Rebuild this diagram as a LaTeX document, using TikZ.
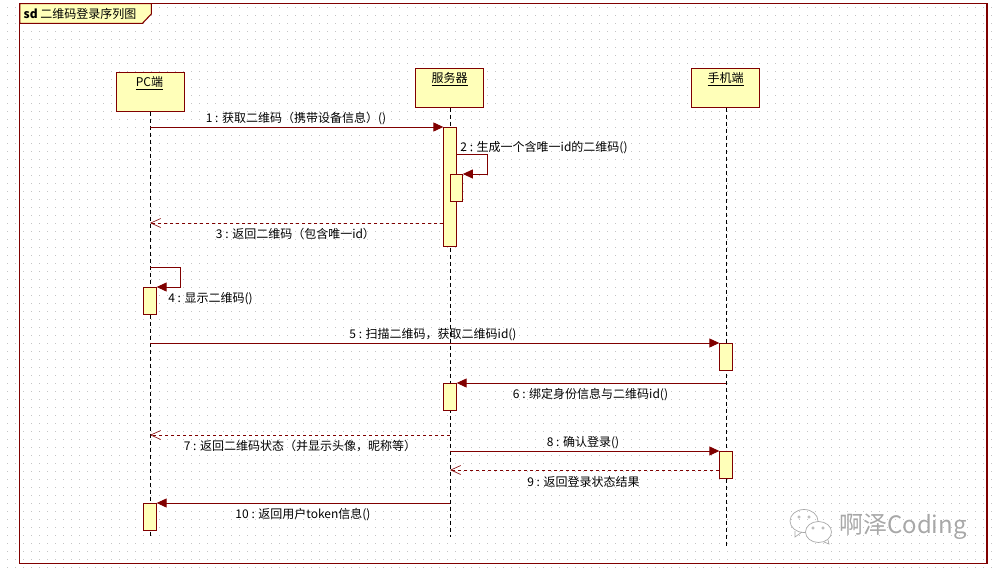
\documentclass[tikz,border=0pt]{standalone}
\usepackage{fontspec}
\setmainfont{Noto Sans CJK SC}
\usetikzlibrary{arrows.meta}
\definecolor{umlred}{HTML}{800000}
\definecolor{umlfill}{HTML}{FFFFB9}
\definecolor{griddot}{HTML}{C4C4C4}
\definecolor{markgray}{HTML}{A8A8A8}
\begin{document}
\begin{tikzpicture}[
   x=1pt,y=-1pt,
   head/.style={draw=umlred,fill=umlfill,line width=1pt,minimum width=68pt,minimum height=39pt,anchor=north west,inner sep=0pt},
   act/.style={draw=umlred,fill=umlfill,line width=1pt,minimum width=12.3pt,anchor=north,inner sep=0pt},
   life/.style={black,line width=1pt,dash pattern=on 4pt off 3pt},
   msg/.style={umlred,line width=1pt,-{Triangle[length=10pt,width=9pt]}},
   back/.style={umlred,line width=1pt,dash pattern=on 3.5pt off 2.5pt,-{Straight Barb[length=10pt,width=9pt,line width=.6pt]}},
   every node/.style={font=\fontsize{12}{14}\selectfont}
 ]
  \useasboundingbox (0,0) rectangle (999,573);
  % grid
  \foreach \x in {7,15,...,999} {
    \foreach \y in {7,15,...,573} {
      \fill[griddot] (\x,\y) rectangle +(1,1);
    }
  }
  % frame
  \draw[umlred,line width=1.1pt] (19.7,3.6) rectangle (987,563.5);
  \draw[umlred,fill=umlfill,line width=1.1pt] (19.7,3.6)--(151.3,3.6)--(151.3,14)--(142.5,23.3)--(19.7,23.3)--cycle;
  \node (title) at (80,14) {\textbf{sd} 二维码登录序列图};

  \node[head] (pc) at (115.5,71.5) {};
  \node[head] (srv) at (415.4,67.5) {};
  \node[head] (phone) at (691.4,67.5) {};
  \node (pclab) at (149.5,83) {\underline{PC端}};
  \node (srvlab) at (449.5,79) {\underline{服务器}};
  \node (phonelab) at (725.5,79) {\underline{手机端}};

  \coordinate (pcend) at (150,538);
  \coordinate (srvend) at (450,537);
  \coordinate (phoneend) at (726,548);
  \draw[life] (pcend |- pc.south) -- (pcend);
  \draw[life] (srvend |- srv.south) -- (srvend);
  \draw[life] (phoneend |- phone.south) -- (phoneend);

  \node[act,minimum height=119pt] (a1) at (450,127) {};
  \node[act,minimum height=27pt] (a2) at (456.2,174) {};
  \node[act,minimum height=27pt] (a4) at (150,287) {};
  \node[act,minimum height=27pt] (a5) at (726,343) {};
  \node[act,minimum height=27pt] (a6) at (450,383) {};
  \node[act,minimum height=27pt] (a8) at (726,451) {};
  \node[act,minimum height=27pt] (a10) at (150,503) {};

  \coordinate (m1) at (150,127);
  \coordinate (m2) at (a1.east |- 0,154);
  \coordinate (m3) at (a1.west |- 0,223);
  \coordinate (m4) at (150,267);
  \coordinate (m6) at (726,383);
  \coordinate (m7) at (450,435);
  \coordinate (m8) at (450,451);
  \coordinate (m9) at (a8.west |- 0,470);
  \coordinate (m10) at (450,503);

  \draw[msg] (m1)--(a1.north west);
  \draw[msg] (m2)-|(487,174)--(a2.north east);
  \draw[back] (m3)--(m3 -| pcend);
  \draw[msg] (m4)-|(180.5,287)--(a4.north east);
  \draw[msg] (m1 |- a5.north)--(a5.north west);
  \draw[msg] (m6)--(a6.north east);
  \draw[back] (m7)--(m7 -| pcend);
  \draw[msg] (m8)--(a8.north west);
  \draw[back] (m9)--(m9 -| srvend);
  \draw[msg] (m10)--(a10.north east);

  \foreach \i/\x/\y/\lab in {
    1/296/118.5/{1 : 获取二维码（携带设备信息）()},
    2/544/147.5/{2 : 生成一个含唯一id的二维码()},
    3/295.5/234/{3 : 返回二维码（包含唯一id）},
    4/210.5/298.5/{4 : 显示二维码()},
    5/433/334.5/{5 : 扫描二维码，获取二维码id()},
    6/590.5/394.5/{6 : 绑定身份信息与二维码id()},
    7/300/446.5/{7 : 返回二维码状态（并显示头像，昵称等）},
    8/583/442.5/{8 : 确认登录()},
    9/583.5/481.5/{9 : 返回登录状态结果},
    10/303/514.5/{10 : 返回用户token信息()}} {
    \node (l\i) at (\x,\y) {\lab};
  }

  % watermark
  \draw[markgray,line width=.7pt] (804,521) ellipse (14pt and 11.5pt);
  \draw[markgray,line width=.7pt] (795,531)--(795,537)--(802,532);
  \draw[markgray,fill=white,line width=.7pt] (818.5,532) ellipse (13pt and 10.5pt);
  \draw[markgray,line width=.7pt] (824,542)--(829,544)--(828,540);
  \foreach \x/\y in {799/517,809/517,813/528,823/528} {
    \draw[markgray,line width=.6pt] (\x,\y) circle (1.2pt);
  }
  \node[text=markgray,font=\fontsize{24}{27}\selectfont] (brand) at (903,527) {啊泽Coding};
 \end{tikzpicture}
\end{document}
